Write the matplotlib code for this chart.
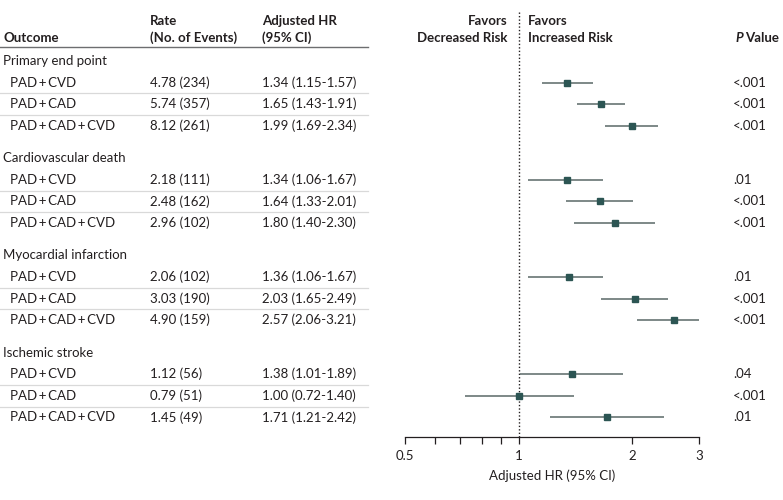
import numpy as np
import matplotlib
matplotlib.use("Agg")
import matplotlib.pyplot as plt
from matplotlib.transforms import blended_transform_factory
from matplotlib.ticker import FixedLocator, NullFormatter

plt.rcParams['font.family'] = ['Lato', 'DejaVu Sans']

# data
outcomes = ['Primary end point', 'Cardiovascular death',
            'Myocardial infarction', 'Ischemic stroke']
groups = ['PAD\u2009+\u2009CVD', 'PAD\u2009+\u2009CAD', 'PAD\u2009+\u2009CAD\u2009+\u2009CVD']
rates = [['4.78 (234)', '5.74 (357)', '8.12 (261)'],
         ['2.18 (111)', '2.48 (162)', '2.96 (102)'],
         ['2.06 (102)', '3.03 (190)', '4.90 (159)'],
         ['1.12 (56)', '0.79 (51)', '1.45 (49)']]
hr = [[1.34, 1.65, 1.99],
      [1.34, 1.64, 1.80],
      [1.36, 2.03, 2.57],
      [1.38, 1.00, 1.71]]
ci_low = [[1.15, 1.43, 1.69],
          [1.06, 1.33, 1.40],
          [1.06, 1.65, 2.06],
          [1.01, 0.72, 1.21]]
ci_high = [[1.57, 1.91, 2.34],
           [1.67, 2.01, 2.30],
           [1.67, 2.49, 3.21],
           [1.89, 1.40, 2.42]]
pvals = [['<.001', '<.001', '<.001'],
         ['.01', '<.001', '<.001'],
         ['.01', '<.001', '<.001'],
         ['.04', '<.001', '.01']]
xticks = [0.5, 1, 2, 3]
xticklabels = ['0.5', '1', '2', '3']
minor_ticks = [0.6, 0.7, 0.8, 0.9]

W, H = 783, 500
fig = plt.figure(figsize=(W / 100, H / 100), dpi=100)

# forest axes, y in pixel units from top of figure
ax_left, ax_right = 405, 699
ax_top, ax_bot = 10, 437
ax = fig.add_axes([ax_left / W, 1 - ax_bot / H,
                   (ax_right - ax_left) / W, (ax_bot - ax_top) / H])
ax.set_xscale('log')
ax.set_xlim(0.5, 3)
ax.set_ylim(ax_bot, ax_top)

txt_color = '#231f20'
mark_color = '#2c5553'
line_color = '#5a6867'
fs = 9.5

tr = blended_transform_factory(fig.transFigure, ax.transData)

def fx(px):
    return px / W

def label(x, y, s, ha='left', **kw):
    ax.text(fx(x), y, s, transform=tr, ha=ha, va='center',
            fontsize=fs, color=txt_color, **kw)

row_h = 21.6
y0 = 61

# header
label(3, 38, 'Outcome', fontweight='bold')
label(150, 21, 'Rate', fontweight='bold')
label(150, 38, '(No. of Events)', fontweight='bold')
label(262, 21, 'Adjusted HR', fontweight='bold')
label(262, 38, '(95% CI)', fontweight='bold')
label(508, 21, 'Favors', ha='right', fontweight='bold')
label(508, 38, 'Decreased Risk', ha='right', fontweight='bold')
label(528, 21, 'Favors', fontweight='bold')
label(528, 38, 'Increased Risk', fontweight='bold')
label(735, 38, 'P', fontweight='bold', fontstyle='italic')
label(745, 38, 'Value', fontweight='bold')

ax.add_line(plt.Line2D([0, fx(368)], [47, 47], transform=tr,
                       color='#6d6e70', lw=1, clip_on=False))

for k, name in enumerate(outcomes):
    gy = y0 + 4.5 * k * row_h
    label(3, gy, name)
    for j, g in enumerate(groups):
        y = gy + (j + 1) * row_h
        label(10, y, g)
        label(150, y, rates[k][j])
        label(262, y, '%.2f (%.2f-%.2f)' % (hr[k][j], ci_low[k][j], ci_high[k][j]))
        label(733, y, pvals[k][j])
        ax.plot([ci_low[k][j], ci_high[k][j]], [y, y], color=line_color, lw=1.1,
                solid_capstyle='butt', zorder=2)
        ax.plot(hr[k][j], y, marker='s', ms=4, color=mark_color, zorder=3)
        if j < 2:
            ax.add_line(plt.Line2D([0, fx(368)], [y + row_h / 2] * 2, transform=tr,
                                   color='#d9d9d9', lw=0.9, clip_on=False))

# reference line at HR = 1
ax.axvline(1, color='#231f20', lw=1, ls=(0, (1, 1.5)), zorder=1)

for s in ['top', 'right', 'left']:
    ax.spines[s].set_visible(False)
ax.spines['bottom'].set_color('#231f20')
ax.spines['bottom'].set_linewidth(0.9)
ax.set_yticks([])
ax.xaxis.set_major_locator(FixedLocator(xticks))
ax.set_xticklabels(xticklabels)
ax.xaxis.set_minor_locator(FixedLocator(minor_ticks))
ax.xaxis.set_minor_formatter(NullFormatter())
ax.tick_params(axis='x', which='major', length=5, width=0.9, color='#231f20',
               labelsize=fs, labelcolor=txt_color, pad=4)
ax.tick_params(axis='x', which='minor', length=5, width=0.9, color='#231f20')
ax.set_xlabel('Adjusted HR (95% CI)', fontsize=fs, color=txt_color, labelpad=6)
ax.patch.set_visible(False)

fig.savefig('out.png', dpi=100)
